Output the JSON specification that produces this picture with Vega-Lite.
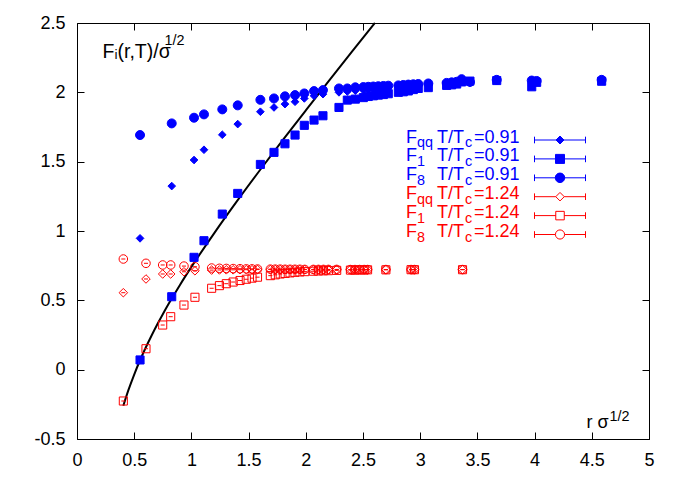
{
  "$schema": "https://vega.github.io/schema/vega-lite/v6.json",
  "width": 572,
  "height": 416,
  "autosize": "none",
  "padding": {"left": 77, "top": 23, "right": 32, "bottom": 38},
  "background": "white",
  "config": {
    "font": "Liberation Sans",
    "view": {"stroke": null},
    "axis": {
      "grid": false,
      "tickSize": -7,
      "tickColor": "black",
      "tickWidth": 1,
      "domainColor": "black",
      "domainWidth": 1,
      "labelFont": "Liberation Sans",
      "labelFontSize": 18,
      "labelColor": "black",
      "titleFont": "Liberation Sans",
      "titleFontSize": 18,
      "titleFontWeight": "normal",
      "titleColor": "black"
    },
    "legend": {"labelFont": "Liberation Sans", "padding": 0, "titlePadding": 0}
  },
  "datasets": {
    "curve": [
      {"x": 0.405, "y": -0.260}, {"x": 0.45, "y": -0.146}, {"x": 0.5, "y": -0.035},
      {"x": 0.55, "y": 0.066}, {"x": 0.6, "y": 0.158}, {"x": 0.65, "y": 0.243},
      {"x": 0.7, "y": 0.324}, {"x": 0.75, "y": 0.400}, {"x": 0.8, "y": 0.473},
      {"x": 0.9, "y": 0.611}, {"x": 1.0, "y": 0.741}, {"x": 1.2, "y": 0.985},
      {"x": 1.4, "y": 1.217}, {"x": 1.6, "y": 1.440}, {"x": 1.8, "y": 1.657},
      {"x": 2.0, "y": 1.870}, {"x": 2.2, "y": 2.081}, {"x": 2.4, "y": 2.290},
      {"x": 2.604, "y": 2.500}
    ],
    "pts": [
      {"s": "b1", "x": 0.551, "y": 0.947}, {"s": "b1", "x": 0.828, "y": 1.324}, {"s": "b1", "x": 1.023, "y": 1.512},
      {"s": "b1", "x": 1.110, "y": 1.586}, {"s": "b1", "x": 1.270, "y": 1.694}, {"s": "b1", "x": 1.405, "y": 1.771},
      {"s": "b1", "x": 1.603, "y": 1.860}, {"s": "b1", "x": 1.722, "y": 1.891}, {"s": "b1", "x": 1.818, "y": 1.915},
      {"s": "b1", "x": 1.906, "y": 1.932}, {"s": "b1", "x": 1.987, "y": 1.956}, {"s": "b1", "x": 2.072, "y": 1.975},
      {"s": "b1", "x": 2.150, "y": 1.987}, {"s": "b1", "x": 2.290, "y": 2.000}, {"s": "b1", "x": 2.363, "y": 2.006},
      {"s": "b1", "x": 2.433, "y": 2.012}, {"s": "b1", "x": 2.503, "y": 2.016}, {"s": "b1", "x": 2.546, "y": 2.020},
      {"s": "b1", "x": 2.590, "y": 2.022}, {"s": "b1", "x": 2.634, "y": 2.026}, {"s": "b1", "x": 2.678, "y": 2.030},
      {"s": "b1", "x": 2.721, "y": 2.032}, {"s": "b1", "x": 2.809, "y": 2.036}, {"s": "b1", "x": 2.852, "y": 2.040},
      {"s": "b1", "x": 2.896, "y": 2.042}, {"s": "b1", "x": 2.940, "y": 2.045}, {"s": "b1", "x": 2.983, "y": 2.048},
      {"s": "b1", "x": 3.071, "y": 2.052}, {"s": "b1", "x": 3.231, "y": 2.060}, {"s": "b1", "x": 3.275, "y": 2.063},
      {"s": "b1", "x": 3.319, "y": 2.066}, {"s": "b1", "x": 3.362, "y": 2.085}, {"s": "b1", "x": 3.435, "y": 2.070},
      {"s": "b1", "x": 3.669, "y": 2.082}, {"s": "b1", "x": 3.975, "y": 2.070}, {"s": "b1", "x": 4.018, "y": 2.078},
      {"s": "b1", "x": 4.586, "y": 2.082},

      {"s": "b2", "x": 0.551, "y": 0.070}, {"s": "b2", "x": 0.828, "y": 0.526}, {"s": "b2", "x": 1.023, "y": 0.810},
      {"s": "b2", "x": 1.110, "y": 0.930}, {"s": "b2", "x": 1.270, "y": 1.122}, {"s": "b2", "x": 1.405, "y": 1.271},
      {"s": "b2", "x": 1.603, "y": 1.480}, {"s": "b2", "x": 1.722, "y": 1.567}, {"s": "b2", "x": 1.818, "y": 1.629},
      {"s": "b2", "x": 1.906, "y": 1.692}, {"s": "b2", "x": 1.987, "y": 1.762}, {"s": "b2", "x": 2.072, "y": 1.800},
      {"s": "b2", "x": 2.150, "y": 1.831}, {"s": "b2", "x": 2.290, "y": 1.891}, {"s": "b2", "x": 2.363, "y": 1.944},
      {"s": "b2", "x": 2.433, "y": 1.951}, {"s": "b2", "x": 2.503, "y": 1.962}, {"s": "b2", "x": 2.546, "y": 1.970},
      {"s": "b2", "x": 2.590, "y": 1.975}, {"s": "b2", "x": 2.634, "y": 1.980}, {"s": "b2", "x": 2.678, "y": 1.984},
      {"s": "b2", "x": 2.721, "y": 1.990}, {"s": "b2", "x": 2.809, "y": 2.000}, {"s": "b2", "x": 2.852, "y": 2.004},
      {"s": "b2", "x": 2.896, "y": 2.010}, {"s": "b2", "x": 2.940, "y": 2.020}, {"s": "b2", "x": 2.983, "y": 2.028},
      {"s": "b2", "x": 3.071, "y": 2.034}, {"s": "b2", "x": 3.231, "y": 2.050}, {"s": "b2", "x": 3.275, "y": 2.054},
      {"s": "b2", "x": 3.319, "y": 2.060}, {"s": "b2", "x": 3.362, "y": 2.075}, {"s": "b2", "x": 3.435, "y": 2.081},
      {"s": "b2", "x": 3.669, "y": 2.085}, {"s": "b2", "x": 3.975, "y": 2.040}, {"s": "b2", "x": 4.018, "y": 2.072},
      {"s": "b2", "x": 4.586, "y": 2.080},

      {"s": "b3", "x": 0.551, "y": 1.692}, {"s": "b3", "x": 0.828, "y": 1.776}, {"s": "b3", "x": 1.023, "y": 1.817},
      {"s": "b3", "x": 1.110, "y": 1.841}, {"s": "b3", "x": 1.270, "y": 1.877}, {"s": "b3", "x": 1.405, "y": 1.906},
      {"s": "b3", "x": 1.603, "y": 1.946}, {"s": "b3", "x": 1.722, "y": 1.956}, {"s": "b3", "x": 1.818, "y": 1.971},
      {"s": "b3", "x": 1.906, "y": 1.980}, {"s": "b3", "x": 1.987, "y": 1.992}, {"s": "b3", "x": 2.072, "y": 2.009},
      {"s": "b3", "x": 2.150, "y": 2.016}, {"s": "b3", "x": 2.290, "y": 2.028}, {"s": "b3", "x": 2.363, "y": 2.028},
      {"s": "b3", "x": 2.433, "y": 2.036}, {"s": "b3", "x": 2.503, "y": 2.038}, {"s": "b3", "x": 2.546, "y": 2.040},
      {"s": "b3", "x": 2.590, "y": 2.042}, {"s": "b3", "x": 2.634, "y": 2.044}, {"s": "b3", "x": 2.678, "y": 2.046},
      {"s": "b3", "x": 2.721, "y": 2.048}, {"s": "b3", "x": 2.809, "y": 2.050}, {"s": "b3", "x": 2.852, "y": 2.053},
      {"s": "b3", "x": 2.896, "y": 2.056}, {"s": "b3", "x": 2.940, "y": 2.058}, {"s": "b3", "x": 2.983, "y": 2.060},
      {"s": "b3", "x": 3.071, "y": 2.064}, {"s": "b3", "x": 3.231, "y": 2.068}, {"s": "b3", "x": 3.275, "y": 2.072},
      {"s": "b3", "x": 3.319, "y": 2.076}, {"s": "b3", "x": 3.362, "y": 2.095}, {"s": "b3", "x": 3.435, "y": 2.075},
      {"s": "b3", "x": 3.669, "y": 2.090}, {"s": "b3", "x": 3.975, "y": 2.085}, {"s": "b3", "x": 4.018, "y": 2.082},
      {"s": "b3", "x": 4.586, "y": 2.090},

      {"s": "r1", "x": 0.405, "y": 0.555}, {"s": "r1", "x": 0.603, "y": 0.654}, {"s": "r1", "x": 0.749, "y": 0.690},
      {"s": "r1", "x": 0.819, "y": 0.690}, {"s": "r1", "x": 0.935, "y": 0.706}, {"s": "r1", "x": 1.031, "y": 0.713},
      {"s": "r1", "x": 1.177, "y": 0.718}, {"s": "r1", "x": 1.245, "y": 0.719}, {"s": "r1", "x": 1.305, "y": 0.720},
      {"s": "r1", "x": 1.365, "y": 0.720}, {"s": "r1", "x": 1.425, "y": 0.721}, {"s": "r1", "x": 1.480, "y": 0.721},
      {"s": "r1", "x": 1.530, "y": 0.721}, {"s": "r1", "x": 1.578, "y": 0.722}, {"s": "r1", "x": 1.690, "y": 0.722},
      {"s": "r1", "x": 1.733, "y": 0.722}, {"s": "r1", "x": 1.776, "y": 0.722}, {"s": "r1", "x": 1.819, "y": 0.722},
      {"s": "r1", "x": 1.862, "y": 0.722}, {"s": "r1", "x": 1.905, "y": 0.722}, {"s": "r1", "x": 1.948, "y": 0.722},
      {"s": "r1", "x": 1.991, "y": 0.722}, {"s": "r1", "x": 2.066, "y": 0.722}, {"s": "r1", "x": 2.110, "y": 0.722},
      {"s": "r1", "x": 2.154, "y": 0.722}, {"s": "r1", "x": 2.197, "y": 0.722}, {"s": "r1", "x": 2.270, "y": 0.722},
      {"s": "r1", "x": 2.390, "y": 0.722}, {"s": "r1", "x": 2.430, "y": 0.722}, {"s": "r1", "x": 2.470, "y": 0.722},
      {"s": "r1", "x": 2.510, "y": 0.722}, {"s": "r1", "x": 2.540, "y": 0.722}, {"s": "r1", "x": 2.700, "y": 0.722},
      {"s": "r1", "x": 2.920, "y": 0.722}, {"s": "r1", "x": 2.950, "y": 0.722}, {"s": "r1", "x": 3.370, "y": 0.722},

      {"s": "r2", "x": 0.405, "y": -0.226}, {"s": "r2", "x": 0.603, "y": 0.151}, {"s": "r2", "x": 0.749, "y": 0.322},
      {"s": "r2", "x": 0.819, "y": 0.382}, {"s": "r2", "x": 0.935, "y": 0.466}, {"s": "r2", "x": 1.031, "y": 0.522},
      {"s": "r2", "x": 1.177, "y": 0.587}, {"s": "r2", "x": 1.245, "y": 0.606}, {"s": "r2", "x": 1.305, "y": 0.620},
      {"s": "r2", "x": 1.365, "y": 0.632}, {"s": "r2", "x": 1.425, "y": 0.643}, {"s": "r2", "x": 1.480, "y": 0.652},
      {"s": "r2", "x": 1.530, "y": 0.660}, {"s": "r2", "x": 1.578, "y": 0.667}, {"s": "r2", "x": 1.690, "y": 0.678},
      {"s": "r2", "x": 1.733, "y": 0.684}, {"s": "r2", "x": 1.776, "y": 0.690}, {"s": "r2", "x": 1.819, "y": 0.694},
      {"s": "r2", "x": 1.862, "y": 0.698}, {"s": "r2", "x": 1.905, "y": 0.702}, {"s": "r2", "x": 1.948, "y": 0.705},
      {"s": "r2", "x": 1.991, "y": 0.707}, {"s": "r2", "x": 2.066, "y": 0.710}, {"s": "r2", "x": 2.110, "y": 0.712},
      {"s": "r2", "x": 2.154, "y": 0.713}, {"s": "r2", "x": 2.197, "y": 0.714}, {"s": "r2", "x": 2.270, "y": 0.716},
      {"s": "r2", "x": 2.390, "y": 0.718}, {"s": "r2", "x": 2.430, "y": 0.718}, {"s": "r2", "x": 2.470, "y": 0.719},
      {"s": "r2", "x": 2.510, "y": 0.719}, {"s": "r2", "x": 2.540, "y": 0.720}, {"s": "r2", "x": 2.700, "y": 0.720},
      {"s": "r2", "x": 2.920, "y": 0.721}, {"s": "r2", "x": 2.950, "y": 0.721}, {"s": "r2", "x": 3.370, "y": 0.721},

      {"s": "r3", "x": 0.405, "y": 0.798}, {"s": "r3", "x": 0.603, "y": 0.767}, {"s": "r3", "x": 0.749, "y": 0.755},
      {"s": "r3", "x": 0.819, "y": 0.755}, {"s": "r3", "x": 0.935, "y": 0.747}, {"s": "r3", "x": 1.031, "y": 0.742},
      {"s": "r3", "x": 1.177, "y": 0.733}, {"s": "r3", "x": 1.245, "y": 0.731}, {"s": "r3", "x": 1.305, "y": 0.730},
      {"s": "r3", "x": 1.365, "y": 0.729}, {"s": "r3", "x": 1.425, "y": 0.728}, {"s": "r3", "x": 1.480, "y": 0.727},
      {"s": "r3", "x": 1.530, "y": 0.727}, {"s": "r3", "x": 1.578, "y": 0.726}, {"s": "r3", "x": 1.690, "y": 0.725},
      {"s": "r3", "x": 1.733, "y": 0.725}, {"s": "r3", "x": 1.776, "y": 0.725}, {"s": "r3", "x": 1.819, "y": 0.724},
      {"s": "r3", "x": 1.862, "y": 0.724}, {"s": "r3", "x": 1.905, "y": 0.724}, {"s": "r3", "x": 1.948, "y": 0.724},
      {"s": "r3", "x": 1.991, "y": 0.723}, {"s": "r3", "x": 2.066, "y": 0.723}, {"s": "r3", "x": 2.110, "y": 0.723},
      {"s": "r3", "x": 2.154, "y": 0.723}, {"s": "r3", "x": 2.197, "y": 0.723}, {"s": "r3", "x": 2.270, "y": 0.723},
      {"s": "r3", "x": 2.390, "y": 0.722}, {"s": "r3", "x": 2.430, "y": 0.722}, {"s": "r3", "x": 2.470, "y": 0.722},
      {"s": "r3", "x": 2.510, "y": 0.722}, {"s": "r3", "x": 2.540, "y": 0.722}, {"s": "r3", "x": 2.700, "y": 0.722},
      {"s": "r3", "x": 2.920, "y": 0.722}, {"s": "r3", "x": 2.950, "y": 0.722}, {"s": "r3", "x": 3.370, "y": 0.722}
    ]
  },
  "layer": [
    {
      "data": {"name": "curve"},
      "mark": {"type": "line", "color": "black", "strokeWidth": 2, "interpolate": "monotone"},
      "encoding": {
        "x": {
          "field": "x", "type": "quantitative",
          "scale": {"domain": [0, 5], "nice": false, "zero": false},
          "axis": {
            "orient": "top", "labels": false, "values": [0, 0.5, 1, 1.5, 2, 2.5, 3, 3.5, 4, 4.5, 5],
            "title": "1/2", "titleFontSize": 14.4, "titleX": 532, "titleY": 397,
            "titleAlign": "left", "titleAnchor": "start", "titleBaseline": "alphabetic", "titleAngle": 0, "titlePadding": 0
          }
        },
        "y": {
          "field": "y", "type": "quantitative",
          "scale": {"domain": [-0.5, 2.5], "nice": false, "zero": false},
          "axis": {
            "orient": "right", "labels": false, "values": [-0.5, 0, 0.5, 1, 1.5, 2, 2.5],
            "title": "1/2", "titleFontSize": 14.4, "titleX": -485, "titleY": 21,
            "titleAlign": "left", "titleAnchor": "start", "titleBaseline": "alphabetic", "titleAngle": 0, "titlePadding": 0
          }
        }
      }
    },
    {
      "data": {"name": "pts"},
      "mark": {"type": "point", "size": 289, "strokeWidth": 1, "opacity": 0},
      "encoding": {
        "x": {"field": "x", "type": "quantitative", "axis": null},
        "y": {"field": "y", "type": "quantitative", "axis": null},
        "shape": {
          "field": "s", "type": "nominal",
          "scale": {
            "domain": ["b1", "b2", "b3", "r1", "r2", "r3"],
            "range": [
              "M-3,-0.39V0.39M-3,0H3M3,-0.39V0.39M0,-0.47L0.47,0L0,0.47L-0.47,0Z",
              "M-3,-0.39V0.39M-3,0H3M3,-0.39V0.39M-0.53,-0.53H0.53V0.53H-0.53Z",
              "M-3,-0.39V0.39M-3,0H3M3,-0.39V0.39M0.56,0A0.56,0.56,0,1,1,-0.56,0A0.56,0.56,0,1,1,0.56,0Z",
              "M-3,-0.39V0.39M-3,0H-0.5M0.5,0H3M3,-0.39V0.39M0,-0.5L0.5,0L0,0.5L-0.5,0Z",
              "M-3,-0.39V0.39M-3,0H-0.5M0.5,0H3M3,-0.39V0.39M-0.5,-0.5H0.5V0.5H-0.5Z",
              "M-3,-0.39V0.39M-3,0H-0.54M0.54,0H3M3,-0.39V0.39M0.54,0A0.54,0.54,0,1,1,-0.54,0A0.54,0.54,0,1,1,0.54,0Z"
            ]
          },
          "legend": {
            "orient": "none", "legendX": 474, "legendY": 108, "title": null,
            "direction": "vertical", "rowPadding": 0.9, "symbolSize": 289, "symbolStrokeWidth": 1, "symbolOpacity": 1,
            "labelFontSize": 18, "labelOpacity": 0, "labelBaseline": "middle", "labelLimit": 400,
            "labelExpr": "'F T/Tc=0.91'"
          }
        },
        "stroke": {
          "field": "s", "type": "nominal",
          "scale": {
            "domain": ["b1", "b2", "b3", "r1", "r2", "r3"],
            "range": ["#0000ff", "#0000ff", "#0000ff", "#ff0000", "#ff0000", "#ff0000"]
          },
          "legend": {
            "orient": "none", "legendX": 474, "legendY": 108, "title": null,
            "direction": "vertical", "rowPadding": 0.9, "symbolSize": 289, "symbolStrokeWidth": 1, "symbolOpacity": 1,
            "labelFontSize": 18, "labelOpacity": 0, "labelBaseline": "middle", "labelLimit": 400,
            "labelExpr": "'F T/Tc=0.91'"
          }
        },
        "fill": {
          "field": "s", "type": "nominal",
          "scale": {
            "domain": ["b1", "b2", "b3", "r1", "r2", "r3"],
            "range": ["#0000ff", "#0000ff", "#0000ff", "transparent", "transparent", "transparent"]
          },
          "legend": {
            "orient": "none", "legendX": 474, "legendY": 108, "title": null,
            "direction": "vertical", "rowPadding": 0.9, "symbolSize": 289, "symbolStrokeWidth": 1, "symbolOpacity": 1,
            "labelFontSize": 18, "labelOpacity": 0, "labelBaseline": "middle", "labelLimit": 400,
            "labelExpr": "'F T/Tc=0.91'"
          }
        }
      }
    },
    {
      "data": {"name": "pts"},
      "mark": {"type": "point", "size": 81, "strokeWidth": 1, "opacity": 1},
      "encoding": {
        "x": {
          "field": "x", "type": "quantitative",
          "scale": {"domain": [0, 5], "nice": false, "zero": false},
          "axis": {
            "orient": "bottom", "values": [0, 0.5, 1, 1.5, 2, 2.5, 3, 3.5, 4, 4.5, 5],
            "labelExpr": "'' + datum.value", "labelPadding": 19, "labelFlush": false, "labelOverlap": false,
            "title": "r \u03c3", "titleFontSize": 18, "titleX": 509, "titleY": -12,
            "titleAlign": "left", "titleAnchor": "start", "titleBaseline": "alphabetic", "titlePadding": 0
          }
        },
        "y": {
          "field": "y", "type": "quantitative",
          "scale": {"domain": [-0.5, 2.5], "nice": false, "zero": false},
          "axis": {
            "orient": "left", "values": [-0.5, 0, 0.5, 1, 1.5, 2, 2.5],
            "labelExpr": "'' + datum.value", "labelPadding": 19, "labelFlush": false, "labelOverlap": false,
            "title": "F\u1d62(r,T)/\u03c3", "titleFontSize": 19.5, "titleX": 25, "titleY": 34, "titleAngle": 0,
            "titleAlign": "left", "titleAnchor": "start", "titleBaseline": "alphabetic", "titlePadding": 0
          }
        },
        "shape": {
          "field": "s", "type": "nominal",
          "scale": {
            "domain": ["b1", "b2", "b3", "r1", "r2", "r3"],
            "range": [
              "M0,-0.85L0.85,0L0,0.85L-0.85,0Z",
              "M-0.9,-0.9H0.9V0.9H-0.9Z",
              "circle",
              "M0,-0.95L0.95,0L0,0.95L-0.95,0ZM-0.45,0H0.45",
              "M-0.9,-0.9H0.9V0.9H-0.9ZM-0.45,0H0.45",
              "M0.95,0A0.95,0.95,0,1,1,-0.95,0A0.95,0.95,0,1,1,0.95,0ZM-0.45,0H0.45"
            ]
          },
          "legend": null
        },
        "stroke": {
          "field": "s", "type": "nominal",
          "scale": {"range": ["#0000ff", "#0000ff", "#0000ff", "#ff0000", "#ff0000", "#ff0000"]},
          "legend": {
            "orient": "none", "legendX": 311, "legendY": 105.5, "title": null,
            "direction": "vertical", "rowPadding": 0.9,
            "symbolType": "square", "symbolSize": 324, "symbolStrokeWidth": 0, "symbolOpacity": 0,
            "labelFontSize": 18, "labelBaseline": "middle", "labelLimit": 400, "labelOffset": 0,
            "labelColor": {"expr": "substring(datum.value,0,1)=='b' ? '#0000ff' : '#ff0000'"},
            "labelExpr": "'F\u00a0\u00a0\u00a0\u00a0T/T\u00a0\u00a0=' + (substring(datum.value,0,1)=='b' ? '0.91' : '1.24')"
          }
        },
        "fill": {
          "field": "s", "type": "nominal",
          "scale": {
            "domain": ["b1", "b2", "b3", "r1", "r2", "r3", "zz"],
            "range": ["#0000ff", "#0000ff", "#0000ff", "transparent", "transparent", "transparent", "transparent"]
          },
          "legend": {
            "orient": "none", "legendX": 322, "legendY": 111, "title": null,
            "values": ["b1", "b2", "b3", "r1", "r2", "r3"],
            "direction": "vertical", "rowPadding": 0.9,
            "symbolType": "square", "symbolSize": 324, "symbolStrokeWidth": 0, "symbolOpacity": 0,
            "labelFontSize": 14.4, "labelBaseline": "middle", "labelLimit": 400, "labelOffset": 0,
            "labelColor": {"expr": "substring(datum.value,0,1)=='b' ? '#0000ff' : '#ff0000'"},
            "labelExpr": "(substring(datum.value,1,2)=='1' ? 'qq' : (substring(datum.value,1,2)=='2' ? '1\u00a0\u00a0' : '8\u00a0\u00a0')) + '\u00a0\u00a0\u00a0\u00a0\u00a0\u00a0\u00a0\u00a0c'"
          }
        }
      }
    }
  ],
  "resolve": {
    "axis": {"x": "independent", "y": "independent"},
    "scale": {"shape": "independent", "stroke": "independent", "fill": "independent"}
  }
}
